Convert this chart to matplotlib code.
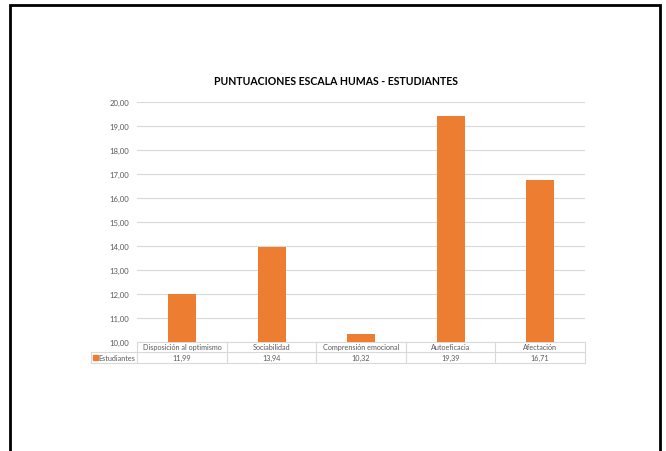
import numpy as np
import matplotlib.pyplot as plt
import matplotlib.transforms as mtransforms
from matplotlib.patches import Rectangle

categories = ['Disposición al optimismo', 'Sociabilidad', 'Comprensión emocional',
              'Autoeficacia', 'Afectación']
values = [11.99, 13.94, 10.32, 19.39, 16.71]
series_name = 'Estudiantes'
value_labels = ['11,99', '13,94', '10,32', '19,39', '16,71']
y_ticks = [10, 11, 12, 13, 14, 15, 16, 17, 18, 19, 20]

orange = '#ED7D31'
grey_txt = '#595959'
grid_col = '#d9d9d9'

plt.rcParams['font.family'] = ['Lato', 'DejaVu Sans']

fig = plt.figure(figsize=(6.66, 4.52), dpi=100)
# black frame around the slide
fig.add_artist(Rectangle((10 / 666, -0.01), (660 - 10) / 666, 1 - 6 / 452 + 0.01,
                         transform=fig.transFigure, fill=False,
                         edgecolor='black', linewidth=2))

ax = fig.add_axes([137.3 / 666, 1 - 342.5 / 452, 447.7 / 666, 240 / 452])
x = np.arange(len(categories))
ax.bar(x, values, width=0.315, color=orange, zorder=3)
ax.set_xlim(-0.5, len(categories) - 0.5)
ax.set_ylim(10, 20)
ax.set_yticks(y_ticks)
ax.set_yticklabels(['%d,00' % t for t in y_ticks], fontsize=5.6, color=grey_txt)
ax.tick_params(axis='y', length=0, pad=6)
ax.set_xticks([])
ax.grid(axis='y', color=grid_col, linewidth=0.8, zorder=0)
for s in ax.spines.values():
    s.set_visible(False)

fig.text(336 / 666, 1 - 81.5 / 452, 'PUNTUACIONES ESCALA HUMAS - ESTUDIANTES',
         fontsize=7.6, fontweight='bold', color='black', ha='center', va='center')

# data table under the chart (x in data units, y in axes units)
trans = mtransforms.blended_transform_factory(ax.transData, ax.transAxes)
row_h = 10.8 / 240
lab_w = 46.3 / 89.5
n = len(categories)
left = -0.5 - lab_w
right = n - 0.5
y0, y1, y2 = 0, -row_h, -2 * row_h
line_kw = dict(color=grid_col, linewidth=0.8, transform=trans, clip_on=False)
ax.plot([-0.5, right], [y0, y0], **line_kw)
ax.plot([left, right], [y1, y1], **line_kw)
ax.plot([left, right], [y2, y2], **line_kw)
ax.plot([left, left], [y1, y2], **line_kw)
for b in np.arange(n + 1) - 0.5:
    ax.plot([b, b], [y0, y2], **line_kw)
for i in range(n):
    ax.text(x[i], (y0 + y1) / 2, categories[i], transform=trans, ha='center',
            va='center', fontsize=5.2, color=grey_txt)
    ax.text(x[i], (y1 + y2) / 2, value_labels[i], transform=trans, ha='center',
            va='center', fontsize=5.2, color=grey_txt)
ax.add_patch(Rectangle((left + 0.02, y2 + row_h * 0.25), 0.058, row_h * 0.5,
                       transform=trans, color=orange, clip_on=False))
ax.text(left + 0.085, (y1 + y2) / 2, series_name, transform=trans, ha='left',
        va='center', fontsize=5.2, color=grey_txt)

fig.savefig('out.png', dpi=100)
